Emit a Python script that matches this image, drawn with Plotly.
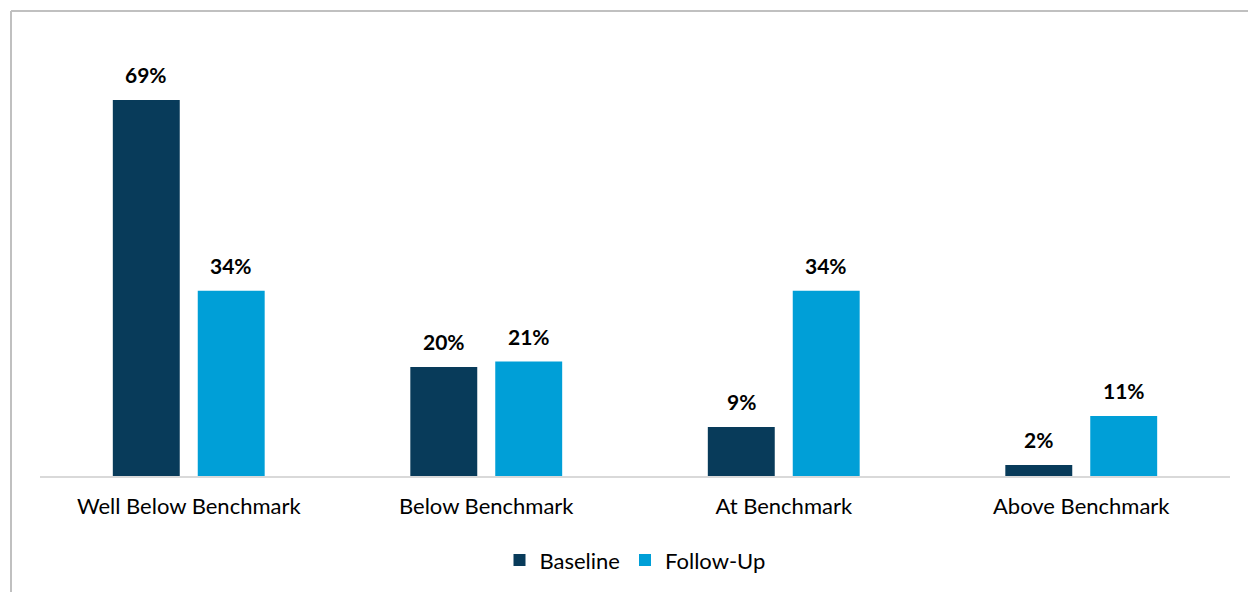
import plotly.graph_objects as go

categories = ["Well Below Benchmark", "Below Benchmark", "At Benchmark", "Above Benchmark"]
baseline = [69, 20, 9, 2]
follow_up = [34, 21, 34, 11]
series_names = ["Baseline", "Follow-Up"]
colors = ["#083b5a", "#009fd7"]

W, H = 1248, 592
ML, MR, MT, MB = 40, 18, 40, 116
PW, PH = W - ML - MR, H - MT - MB

fig = go.Figure()
offsets = [-42.5, 42.5]
for name, vals, col, off in zip(series_names, [baseline, follow_up], colors, offsets):
    fig.add_trace(go.Bar(
        x=categories, y=vals, name=name, marker=dict(color=col, line=dict(width=0)),
        hoverinfo="x+y",
    ))
    for c, v in zip(categories, vals):
        fig.add_annotation(x=c, y=v, text=f"<b>{v}%</b>", showarrow=False,
                           xshift=off, yanchor="bottom", yshift=11,
                           font=dict(family="Lato", size=21, color="#000000"))

def px_to_paper_x(px):
    return (px - ML) / PW

def px_to_paper_y(py):
    return 1 - (py - MT) / PH

border = dict(color="#c0c0c0", width=2)
fig.add_shape(type="line", xref="paper", yref="paper",
              x0=px_to_paper_x(11), x1=px_to_paper_x(11), y0=px_to_paper_y(11), y1=px_to_paper_y(600),
              line=border)
fig.add_shape(type="line", xref="paper", yref="paper",
              x0=px_to_paper_x(11), x1=px_to_paper_x(1260), y0=px_to_paper_y(11), y1=px_to_paper_y(11),
              line=border)

fig.update_layout(
    width=W, height=H,
    margin=dict(l=ML, r=MR, t=MT, b=MB, autoexpand=False),
    paper_bgcolor="white", plot_bgcolor="white",
    barmode="group", bargap=0.429, bargroupgap=0.212,
    font=dict(family="Lato", size=22, color="#000000"),
    showlegend=True,
    legend=dict(orientation="h", x=0.5, xanchor="center", y=-0.145, yanchor="top",
                font=dict(family="Lato", size=22, color="#000000"), itemwidth=30),
)
fig.update_xaxes(showline=True, linecolor="#d9d9d9", linewidth=2, ticks="",
                 ticklabelstandoff=10, automargin=False,
                 tickfont=dict(family="Lato", size=22, color="#000000"), showgrid=False)
fig.update_yaxes(range=[0, 80], visible=False, showgrid=False, zeroline=False, automargin=False)

fig.write_html("out.html")
